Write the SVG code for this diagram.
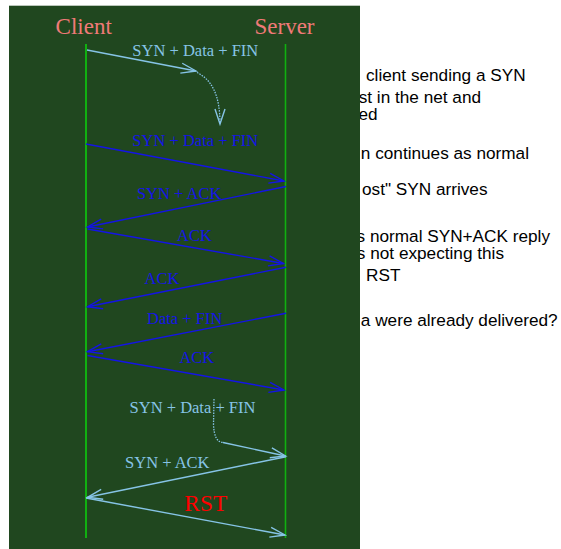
<svg xmlns="http://www.w3.org/2000/svg" width="561" height="549" viewBox="0 0 561 549">
<style>
.note{font-family:"Liberation Sans",Arial,sans-serif;font-size:17.2px;fill:#000}
.hdr{font-family:"Liberation Serif","Times New Roman",serif;font-size:23px;fill:#f07a78;text-anchor:middle}
.lbl{font-family:"Liberation Serif","Times New Roman",serif;font-size:16.5px;text-anchor:middle}
.b{fill:#1414e6}
.lb{fill:#86c4e6}
.life{stroke:#10b010;fill:none}
.ab{stroke:#1414e6;stroke-width:1.4;fill:none}
.alb{stroke:#86c4e6;stroke-width:1.4;fill:none}
.dot{stroke:#86c4e6;stroke-width:1.3;fill:none;stroke-dasharray:1.5,1.2}
</style>
<defs>
<marker id="mb" markerUnits="userSpaceOnUse" markerWidth="18" markerHeight="12" refX="15" refY="5" orient="auto" overflow="visible">
<path d="M0,0 L15,5 L0,10" fill="none" stroke="#1414e6" stroke-width="1.4"/>
</marker>
<marker id="mlb" markerUnits="userSpaceOnUse" markerWidth="18" markerHeight="12" refX="15" refY="5" orient="auto" overflow="visible">
<path d="M0,0 L15,5 L0,10" fill="none" stroke="#86c4e6" stroke-width="1.4"/>
</marker>
</defs>
<rect width="561" height="549" fill="#fff"/>
<g id="notes">
<text class="note" x="366" y="81">client sending a SYN</text>
<text class="note" x="481" y="103" text-anchor="end">st in the net and</text>
<text class="note" x="377.5" y="119.5" text-anchor="end">ed</text>
<text class="note" x="529" y="158.5" text-anchor="end">n continues as normal</text>
<text class="note" x="487.5" y="194.5" text-anchor="end">ost" SYN arrives</text>
<text class="note" x="550" y="242" text-anchor="end">s normal SYN+ACK reply</text>
<text class="note" x="504" y="258.5" text-anchor="end">s not expecting this</text>
<text class="note" x="366" y="280.5">RST</text>
<text class="note" x="557.7" y="325.5" text-anchor="end">a were already delivered?</text>
</g>
<rect id="panel" x="9" y="5.7" width="351" height="544" fill="#20471f"/>
<g id="client">
<text class="hdr" x="83.7" y="33.7">Client</text>
<line class="life" x1="86" y1="44" x2="86" y2="538" stroke-width="2"/>
</g>
<g id="server">
<text class="hdr" x="284.5" y="33.7">Server</text>
<line class="life" x1="285.5" y1="44" x2="285.5" y2="538" stroke-width="1.6"/>
</g>
<g id="connectors">
<path class="alb" d="M87,50 L196,71" marker-end="url(#mlb)"/>
<path class="dot" d="M197,72.5 C212,80 220,95 220,124" marker-end="url(#mlb)"/>
<path class="ab" d="M86,144 L284,181" marker-end="url(#mb)"/>
<path class="ab" d="M286,186.5 L87.5,227" marker-end="url(#mb)"/>
<path class="ab" d="M87.5,229 L283.5,263.5" marker-end="url(#mb)"/>
<path class="ab" d="M286,267.3 L87.5,306.7" marker-end="url(#mb)"/>
<path class="ab" d="M286,313.3 L87.5,351.7" marker-end="url(#mb)"/>
<path class="ab" d="M87.5,355.5 L284,390" marker-end="url(#mb)"/>
<path class="dot" d="M214,399 L213.5,424 Q214,442 223,442.5"/>
<path class="alb" d="M223,442.5 L285.5,456" marker-end="url(#mlb)"/>
<path class="alb" d="M286,456.7 L87.5,497.3" marker-end="url(#mlb)"/>
<path class="alb" d="M86,498 L285,535" marker-end="url(#mlb)"/>
</g>
<g id="labels">
<text class="lbl lb" x="195.3" y="56">SYN + Data + FIN</text>
<text class="lbl b" x="195.3" y="146">SYN + Data + FIN</text>
<text class="lbl b" x="179.2" y="199">SYN + ACK</text>
<text class="lbl b" x="194.5" y="241">ACK</text>
<text class="lbl b" x="162" y="284">ACK</text>
<text class="lbl b" x="184.7" y="324">Data + FIN</text>
<text class="lbl b" x="196.8" y="362.5">ACK</text>
<text class="lbl lb" x="192.5" y="412.5">SYN + Data + FIN</text>
<text class="lbl lb" x="167.3" y="468">SYN + ACK</text>
<text x="205.8" y="511" style="font-family:'Liberation Serif','Times New Roman',serif;font-size:23.4px;fill:#ff0000;text-anchor:middle">RST</text>
</g>
</svg>
